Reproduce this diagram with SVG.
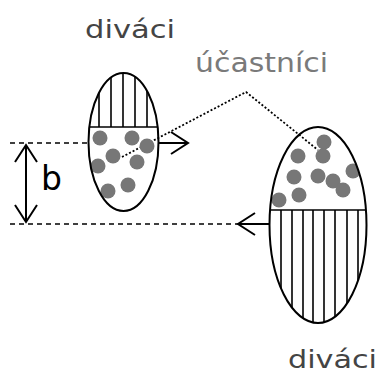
<svg xmlns="http://www.w3.org/2000/svg" width="378" height="374" viewBox="0 0 378 374">
<style>
.lbl{font-family:"DejaVu Sans","Liberation Sans",sans-serif;}
.dv{fill:#444;font-size:25px;}
.uc{fill:#7a7a7a;font-size:27px;}
.ell{fill:none;stroke:#000;stroke-width:2;}
.hatch{stroke:#000;stroke-width:1.6;}
.dot{fill:#777;}
.dash{stroke:#000;stroke-width:1.5;stroke-dasharray:5,4;fill:none;}
.dotted{stroke:#000;stroke-width:1.8;stroke-dasharray:2,2;fill:none;}
.arr{stroke:#000;stroke-width:2;fill:none;}
</style>
<defs>
<clipPath id="cl"><ellipse cx="123.5" cy="142" rx="35" ry="69"/></clipPath>
<clipPath id="cr"><ellipse cx="318" cy="225" rx="48.5" ry="98"/></clipPath>
<marker id="head" viewBox="0 0 20 24" refX="18" refY="12" markerWidth="20" markerHeight="24" markerUnits="userSpaceOnUse" orient="auto-start-reverse">
<path d="M1,1 L18,12 L1,23" fill="none" stroke="#000" stroke-width="2"/>
</marker>
</defs>
<g id="connectors">
<line class="dash" x1="10" y1="143" x2="88" y2="143"/>
<line class="arr" x1="159" y1="143" x2="188" y2="143" marker-end="url(#head)"/>
<line class="dash" x1="10" y1="224" x2="238" y2="224"/>
<line class="arr" x1="270" y1="224" x2="238" y2="224" marker-end="url(#head)"/>
<line class="arr" x1="26" y1="145" x2="26" y2="222" marker-start="url(#head)" marker-end="url(#head)"/>
<polyline class="dotted" points="122,157 246,92 318,150"/>
</g>
<g id="left-ellipse">
<g clip-path="url(#cl)">
<line class="hatch" x1="99" y1="60" x2="99" y2="127"/>
<line class="hatch" x1="111" y1="60" x2="111" y2="127"/>
<line class="hatch" x1="123" y1="60" x2="123" y2="127"/>
<line class="hatch" x1="135" y1="60" x2="135" y2="127"/>
<line class="hatch" x1="147" y1="60" x2="147" y2="127"/>
<line class="hatch" x1="80" y1="127" x2="170" y2="127"/>
<circle class="dot" cx="100" cy="138" r="7.5"/>
<circle class="dot" cx="132" cy="138" r="7.5"/>
<circle class="dot" cx="147" cy="146" r="7.5"/>
<circle class="dot" cx="113" cy="156" r="7.5"/>
<circle class="dot" cx="137" cy="162" r="7.5"/>
<circle class="dot" cx="98" cy="166" r="7.5"/>
<circle class="dot" cx="108" cy="191" r="7.5"/>
<circle class="dot" cx="128" cy="185" r="7.5"/>
</g>
<ellipse class="ell" cx="123.5" cy="142" rx="35" ry="69"/>
</g>
<g id="right-ellipse">
<g clip-path="url(#cr)">
<circle class="dot" cx="324" cy="142" r="7.5"/>
<circle class="dot" cx="323" cy="156" r="7.5"/>
<circle class="dot" cx="298" cy="156" r="7.5"/>
<circle class="dot" cx="294" cy="177" r="7.5"/>
<circle class="dot" cx="318" cy="176" r="7.5"/>
<circle class="dot" cx="333" cy="181" r="7.5"/>
<circle class="dot" cx="343" cy="190" r="7.5"/>
<circle class="dot" cx="353" cy="171" r="7.5"/>
<circle class="dot" cx="279" cy="200" r="7.5"/>
<circle class="dot" cx="299" cy="195" r="7.5"/>
<line class="hatch" x1="260" y1="210" x2="375" y2="210"/>
<line class="hatch" x1="281" y1="210" x2="281" y2="330"/>
<line class="hatch" x1="292" y1="210" x2="292" y2="330"/>
<line class="hatch" x1="303" y1="210" x2="303" y2="330"/>
<line class="hatch" x1="313" y1="210" x2="313" y2="330"/>
<line class="hatch" x1="324" y1="210" x2="324" y2="330"/>
<line class="hatch" x1="335" y1="210" x2="335" y2="330"/>
<line class="hatch" x1="347" y1="210" x2="347" y2="330"/>
<line class="hatch" x1="358" y1="210" x2="358" y2="330"/>
</g>
<ellipse class="ell" cx="318" cy="225" rx="48.5" ry="98"/>
</g>
<g id="labels">
<text class="lbl dv" x="85" y="38" textLength="90" lengthAdjust="spacingAndGlyphs">diváci</text>
<text class="lbl uc" x="195" y="72" textLength="133" lengthAdjust="spacingAndGlyphs">účastníci</text>
<text class="lbl dv" x="288" y="368" textLength="89" lengthAdjust="spacingAndGlyphs">diváci</text>
<text class="lbl" x="41" y="190" font-size="33" fill="#000" font-family="Liberation Sans, sans-serif">b</text>
</g>
</svg>
